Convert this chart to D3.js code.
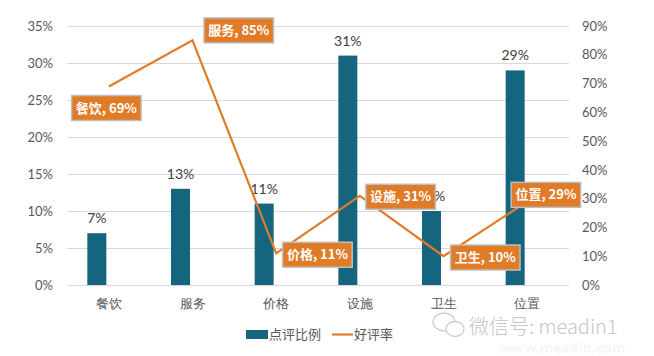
<!DOCTYPE html>
<html><head><meta charset="utf-8">
<script src="https://cdn.jsdelivr.net/npm/d3@7"></script>
<style>
html,body{margin:0;padding:0;background:#fff;}
svg{display:block;font-family:"Noto Sans CJK SC","Noto Sans",sans-serif;}
</style></head>
<body>
<svg id="c" width="654" height="356"></svg>
<script>
const categories = ["餐饮","服务","价格","设施","卫生","位置"];
const shareValues = [0.07,0.13,0.11,0.31,0.10,0.29];   // 点评比例
const rateValues = [0.69,0.85,0.11,0.31,0.10,0.29];    // 好评率
const leftTicks = [0,0.05,0.10,0.15,0.20,0.25,0.30,0.35];
const rightTicks = [0,0.1,0.2,0.3,0.4,0.5,0.6,0.7,0.8,0.9];
const seriesNames = ["点评比例","好评率"];
// label box placement: [left offset from point, center-y offset from point]
const labelPlacement = [[-36,21.6],[11.5,-10],[6.5,1.4],[6,1],[7,1.3],[-16,-6.7]];

const barColor = "#15657F", lineColor = "#E07B28", grid = "#d9d9d9", txt = "#595959";
const numFont = "Lato,'Open Sans',sans-serif";
const svg = d3.select("#c");
const m = {l:67, r:569, t:26, b:285};
const x = d3.scaleBand().domain(categories).range([m.l, m.r]);
const yL = d3.scaleLinear().domain([0,0.35]).range([m.b, m.t]);
const yR = d3.scaleLinear().domain([0,0.9]).range([m.b, m.t]);
const pct = d3.format(".0%");

// gridlines
svg.append("g").selectAll("line").data(leftTicks).join("line")
  .attr("x1", m.l).attr("x2", m.r)
  .attr("y1", d => Math.round(yL(d))+0.5).attr("y2", d => Math.round(yL(d))+0.5)
  .attr("stroke", grid).attr("stroke-width",1);

// left axis
const axL = svg.append("g").attr("transform",`translate(${m.l},0)`)
  .call(d3.axisLeft(yL).tickValues(leftTicks).tickFormat(pct).tickSize(0).tickPadding(14));
axL.select(".domain").remove();
axL.selectAll("text").attr("fill",txt).style("font-size","13px").style("font-family",numFont);

// right axis
const axR = svg.append("g").attr("transform",`translate(${m.r},0)`)
  .call(d3.axisRight(yR).tickValues(rightTicks).tickFormat(pct).tickSize(0).tickPadding(13));
axR.select(".domain").remove();
axR.selectAll("text").attr("fill",txt).style("font-size","13px").style("font-family",numFont);

// x axis labels
const axX = svg.append("g").attr("transform",`translate(0,${m.b})`)
  .call(d3.axisBottom(x).tickSize(0).tickPadding(14));
axX.select(".domain").remove();
axX.selectAll("text").attr("fill",txt).style("font-size","13px");

// bars
const bw = 19;
const barX = d => x(d) + x.bandwidth()/2 - 21.5;
svg.append("g").selectAll("rect").data(categories).join("rect")
  .attr("x", d => barX(d))
  .attr("width", bw)
  .attr("y", (d,i) => yL(shareValues[i]))
  .attr("height", (d,i) => yL(0) - yL(shareValues[i]))
  .attr("fill", barColor);

// bar labels
svg.append("g").selectAll("text").data(categories).join("text")
  .attr("x", d => barX(d) + bw/2)
  .attr("y", (d,i) => yL(shareValues[i]) - 10)
  .attr("text-anchor","middle")
  .attr("fill","#404040")
  .style("font-size","14px")
  .style("font-family",numFont)
  .text((d,i) => pct(shareValues[i]));

// line
const cx = d => x(d) + x.bandwidth()/2;
const line = d3.line().x((d,i) => cx(categories[i])).y(d => yR(d));
svg.append("path").datum(rateValues)
  .attr("d", line).attr("fill","none")
  .attr("stroke", lineColor).attr("stroke-width",2.2).attr("stroke-linejoin","miter");

// line labels
const lg = svg.append("g");
categories.forEach((c,i) => {
  const px = cx(c), py = yR(rateValues[i]);
  const g = lg.append("g");
  const t = g.append("text")
    .attr("fill","#fff").style("font-size","13px").style("font-weight","bold")
    .text(`${c}, ${pct(rateValues[i])}`);
  const bb = t.node().getBBox();
  const w = Math.max(bb.width + 8, 66), h = 25;
  let left = px + labelPlacement[i][0];
  if (i === 0) left = px - w/2 - 2.5;
  const cy = py + labelPlacement[i][1];
  g.insert("rect","text")
    .attr("x", left).attr("y", cy - h/2).attr("width", w).attr("height", h)
    .attr("fill", lineColor).attr("stroke","#bfbfbf").attr("stroke-width",1.5);
  t.attr("x", left + w/2).attr("y", cy + 4.5).attr("text-anchor","middle");
});

// legend
const leg = svg.append("g");
leg.append("rect").attr("x",246).attr("y",330).attr("width",22).attr("height",9).attr("fill",barColor);
leg.append("text").attr("x",269).attr("y",339).attr("fill",txt).style("font-size","13px").text(seriesNames[0]);
leg.append("line").attr("x1",332).attr("x2",353).attr("y1",334.5).attr("y2",334.5).attr("stroke",lineColor).attr("stroke-width",2.2);
leg.append("text").attr("x",354).attr("y",339).attr("fill",txt).style("font-size","13px").text(seriesNames[1]);

// watermark
const wm = svg.append("g").attr("opacity",0.9);
wm.append("ellipse").attr("cx",444).attr("cy",322).attr("rx",11).attr("ry",9).attr("fill","#fff").attr("stroke","#c8c8c8").attr("stroke-width",1.3);
wm.append("ellipse").attr("cx",455).attr("cy",329).attr("rx",9).attr("ry",7.5).attr("fill","#fff").attr("stroke","#c8c8c8").attr("stroke-width",1.3);
wm.append("text").attr("x",469).attr("y",334).attr("fill","#c0c0c0").style("font-size","20px").style("font-weight","300")
  .text("微信号: meadin1");
wm.append("text").attr("x",500).attr("y",353).attr("fill","#f6f6f6").style("font-size","14px").style("font-weight","bold")
  .text("www.meadin.com");
</script>
</body></html>
